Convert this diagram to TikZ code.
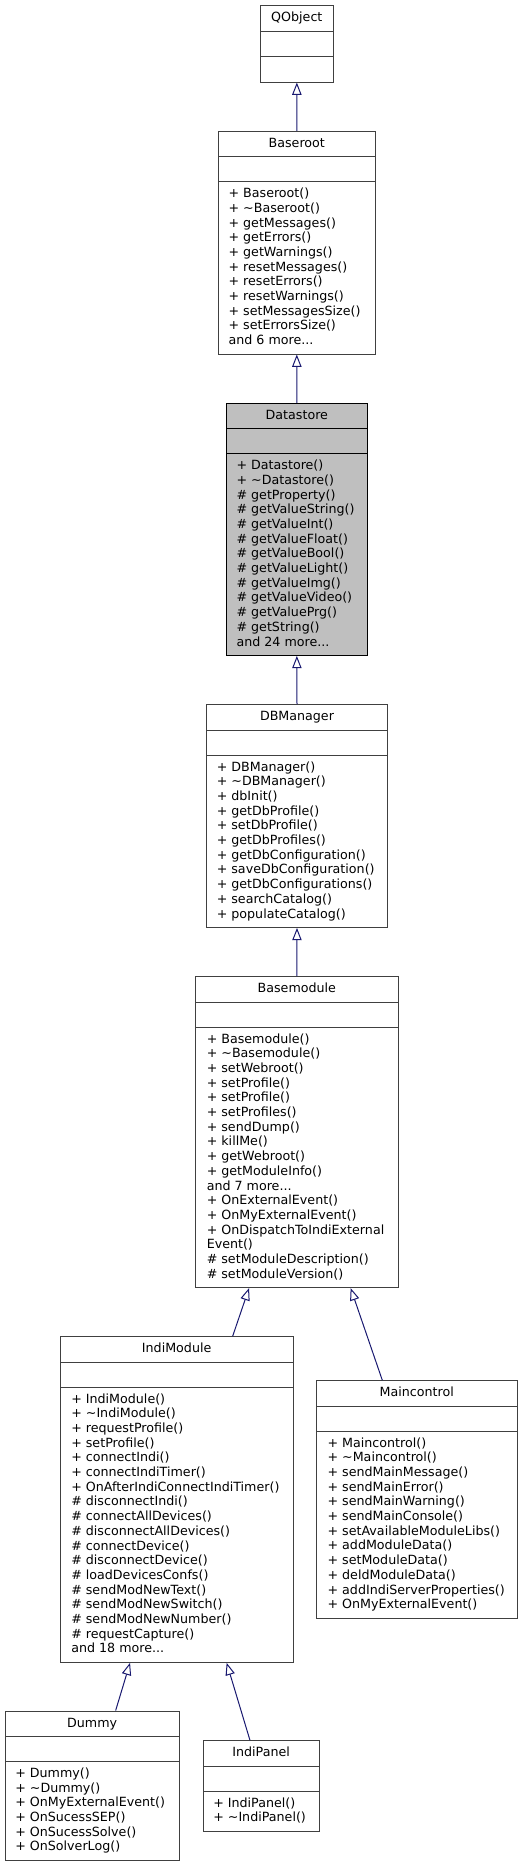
\documentclass[tikz,border=0pt]{standalone}
\usepackage{fontspec}
\setmainfont{DejaVu Sans}
\usetikzlibrary{arrows.meta,fit,calc}
\definecolor{edgeblue}{HTML}{191970}
\definecolor{boxgray}{HTML}{404040}
\definecolor{curfill}{HTML}{BFBFBF}
\tikzset{
  classbox/.style={draw=boxgray, line width=0.75pt, fill=white, inner sep=0pt},
  curbox/.style={classbox, draw=black, fill=curfill},
  classline/.style={draw=boxgray, line width=0.75pt},
  curline/.style={draw=black, line width=0.75pt},
  classname/.style={anchor=base, inner sep=0pt},
  member/.style={anchor=base west, inner sep=0pt},
  inherit/.style={draw=edgeblue, line width=0.75pt, -{Triangle[open, length=9.2pt, width=7pt]}}
}

\begin{document}
\begin{tikzpicture}[x=0.75pt, y=-0.75pt, font=\fontsize{9.5}{11}\selectfont]
\useasboundingbox (0,0) rectangle (528,1867);

% QObject
\node[classbox, fit={(260,5.7) (333.7,82)}] (qobject) {};
\draw[classline] (260,31.1) -- (333.7,31.1);
\draw[classline] (260,56.5) -- (333.7,56.5);
\node[classname] (qobject-name) at (296.85,21.7) {QObject};

% Baseroot
\node[classbox, fit={(218.3,131.3) (375.3,354)}] (baseroot) {};
\draw[classline] (218.3,156.6) -- (375.3,156.6);
\draw[classline] (218.3,181.9) -- (375.3,181.9);
\node[classname] (baseroot-name) at (296.8,147.3) {Baseroot};
\foreach \m [count=\i from 0] in {+ Baseroot(), + \textasciitilde Baseroot(), + getMessages(),
    + getErrors(), + getWarnings(), + resetMessages(), + resetErrors(), + resetWarnings(),
    + setMessagesSize(), + setErrorsSize(), and 6 more.{}.{}.}
  \node[member] (baseroot-m\i) at (228.3,{197.6+14.7*\i}) {\m};

% Datastore
\node[curbox, fit={(226,403.3) (367.7,655.4)}] (datastore) {};
\draw[curline] (226,428.6) -- (367.7,428.6);
\draw[curline] (226,453.9) -- (367.7,453.9);
\node[classname] (datastore-name) at (296.85,419.3) {Datastore};
\foreach \m [count=\i from 0] in {+ Datastore(), + \textasciitilde Datastore(), \# getProperty(),
    \# getValueString(), \# getValueInt(), \# getValueFloat(), \# getValueBool(),
    \# getValueLight(), \# getValueImg(), \# getValueVideo(), \# getValuePrg(),
    \# getString(), and 24 more.{}.{}.}
  \node[member] (datastore-m\i) at (236.3,{469.6+14.7*\i}) {\m};

% DBManager
\node[classbox, fit={(206.7,704.7) (387.3,927.4)}] (dbmanager) {};
\draw[classline] (206.7,730) -- (387.3,730);
\draw[classline] (206.7,755.3) -- (387.3,755.3);
\node[classname] (dbmanager-name) at (297,720.7) {DBManager};
\foreach \m [count=\i from 0] in {+ DBManager(), + \textasciitilde DBManager(), + dbInit(),
    + getDbProfile(), + setDbProfile(), + getDbProfiles(), + getDbConfiguration(),
    + saveDbConfiguration(), + getDbConfigurations(), + searchCatalog(), + populateCatalog()}
  \node[member] (dbmanager-m\i) at (216.5,{771+14.7*\i}) {\m};

% Basemodule
\node[classbox, fit={(195.7,976.7) (398,1287.6)}] (basemodule) {};
\draw[classline] (195.7,1002) -- (398,1002);
\draw[classline] (195.7,1027.3) -- (398,1027.3);
\node[classname] (basemodule-name) at (296.85,992.7) {Basemodule};
\foreach \m [count=\i from 0] in {+ Basemodule(), + \textasciitilde Basemodule(), + setWebroot(),
    + setProfile(), + setProfile(), + setProfiles(), + sendDump(), + killMe(),
    + getWebroot(), + getModuleInfo(), and 7 more.{}.{}., + OnExternalEvent(),
    + OnMyExternalEvent(), + OnDispatchToIndiExternal, Event(),
    \# setModuleDescription(), \# setModuleVersion()}
  \node[member] (basemodule-m\i) at (206.5,{1043+14.7*\i}) {\m};

% IndiModule
\node[classbox, fit={(60.3,1336.7) (293,1662.3)}] (indimodule) {};
\draw[classline] (60.3,1362) -- (293,1362);
\draw[classline] (60.3,1387.3) -- (293,1387.3);
\node[classname] (indimodule-name) at (176.65,1352.7) {IndiModule};
\foreach \m [count=\i from 0] in {+ IndiModule(), + \textasciitilde IndiModule(), + requestProfile(),
    + setProfile(), + connectIndi(), + connectIndiTimer(), + OnAfterIndiConnectIndiTimer(),
    \# disconnectIndi(), \# connectAllDevices(), \# disconnectAllDevices(),
    \# connectDevice(), \# disconnectDevice(), \# loadDevicesConfs(),
    \# sendModNewText(), \# sendModNewSwitch(), \# sendModNewNumber(),
    \# requestCapture(), and 18 more.{}.{}.}
  \node[member] (indimodule-m\i) at (71,{1403+14.7*\i}) {\m};

% Maincontrol
\node[classbox, fit={(316.3,1380.7) (517.3,1618.1)}] (maincontrol) {};
\draw[classline] (316.3,1406) -- (517.3,1406);
\draw[classline] (316.3,1431.3) -- (517.3,1431.3);
\node[classname] (maincontrol-name) at (416.8,1396.7) {Maincontrol};
\foreach \m [count=\i from 0] in {+ Maincontrol(), + \textasciitilde Maincontrol(), + sendMainMessage(),
    + sendMainError(), + sendMainWarning(), + sendMainConsole(), + setAvailableModuleLibs(),
    + addModuleData(), + setModuleData(), + deldModuleData(), + addIndiServerProperties(),
    + OnMyExternalEvent()}
  \node[member] (maincontrol-m\i) at (327.3,{1447+14.7*\i}) {\m};

% Dummy
\node[classbox, fit={(5,1711) (179.3,1860.2)}] (dummy) {};
\draw[classline] (5,1736.3) -- (179.3,1736.3);
\draw[classline] (5,1761.6) -- (179.3,1761.6);
\node[classname] (dummy-name) at (92.15,1727) {Dummy};
\foreach \m [count=\i from 0] in {+ Dummy(), + \textasciitilde Dummy(), + OnMyExternalEvent(),
    + OnSucessSEP(), + OnSucessSolve(), + OnSolverLog()}
  \node[member] (dummy-m\i) at (15,{1777.3+14.7*\i}) {\m};

% IndiPanel
\node[classbox, fit={(203.3,1740.7) (319,1831.1)}] (indipanel) {};
\draw[classline] (203.3,1766) -- (319,1766);
\draw[classline] (203.3,1791.3) -- (319,1791.3);
\node[classname] (indipanel-name) at (261.15,1756.7) {IndiPanel};
\foreach \m [count=\i from 0] in {+ IndiPanel(), + \textasciitilde IndiPanel()}
  \node[member] (indipanel-m\i) at (213,{1807+14.7*\i}) {\m};

% inheritance
\draw[inherit] (baseroot.north) -- (qobject.south);
\draw[inherit] (datastore.north) -- (baseroot.south);
\draw[inherit] (dbmanager.north) -- (datastore.south);
\draw[inherit] (basemodule.north) -- (dbmanager.south);
\draw[inherit] ($(indimodule.north)+(56,0)$) -- ($(basemodule.south)+(-47.8,0)$);
\draw[inherit] ($(maincontrol.north)+(-34.5,0)$) -- ($(basemodule.south)+(53.8,0)$);
\draw[inherit] ($(dummy.north)+(23.5,0)$) -- ($(indimodule.south)+(-46.6,0)$);
\draw[inherit] ($(indipanel.north)+(-11.2,0)$) -- ($(indimodule.south)+(50,0)$);
\end{tikzpicture}
\end{document}
